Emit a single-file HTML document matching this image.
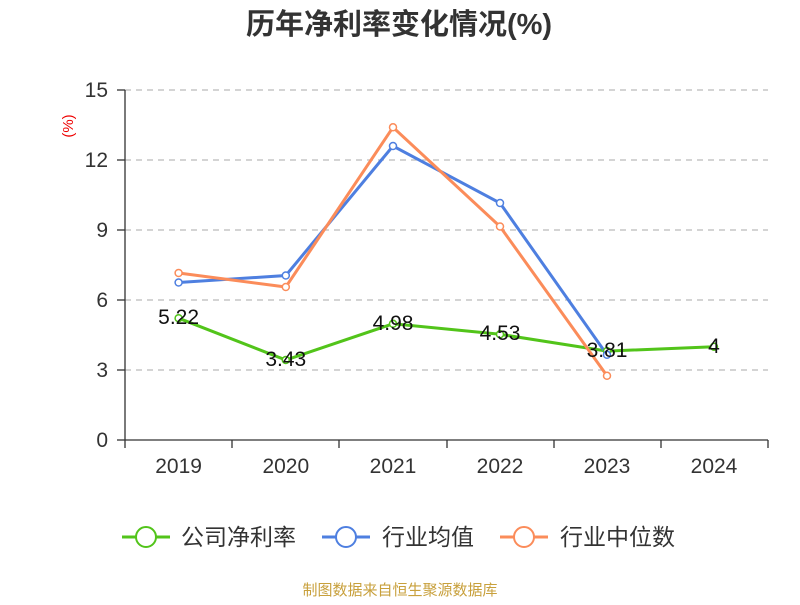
<!DOCTYPE html>
<html><head><meta charset="utf-8"><style>body{margin:0;background:#fff}</style></head><body>
<svg width="800" height="600" xmlns="http://www.w3.org/2000/svg" font-family="Liberation Sans, Noto Sans CJK SC, sans-serif">
<text x="399" y="34" text-anchor="middle" font-size="29" font-weight="bold" fill="#333">历年净利率变化情况(%)</text>
<text x="68" y="126" font-size="15" fill="#e00" transform="rotate(-90 68 126)" text-anchor="middle" dy="5">(%)</text>
<g stroke="#bbb" stroke-dasharray="6,5" stroke-width="1.3">
<line x1="125" x2="768" y1="90" y2="90"/><line x1="125" x2="768" y1="160" y2="160"/><line x1="125" x2="768" y1="230" y2="230"/><line x1="125" x2="768" y1="300" y2="300"/><line x1="125" x2="768" y1="370" y2="370"/>
</g>
<g stroke="#333" stroke-width="1.3">
<line x1="125" x2="125" y1="90" y2="440"/><line x1="125" x2="768" y1="440" y2="440"/>
<line x1="117" x2="125" y1="90" y2="90"/><line x1="117" x2="125" y1="160" y2="160"/><line x1="117" x2="125" y1="230" y2="230"/><line x1="117" x2="125" y1="300" y2="300"/><line x1="117" x2="125" y1="370" y2="370"/><line x1="117" x2="125" y1="440" y2="440"/>
<line x1="125" x2="125" y1="440" y2="448"/><line x1="232" x2="232" y1="440" y2="448"/><line x1="339" x2="339" y1="440" y2="448"/><line x1="447" x2="447" y1="440" y2="448"/><line x1="554" x2="554" y1="440" y2="448"/><line x1="661" x2="661" y1="440" y2="448"/><line x1="768" x2="768" y1="440" y2="448"/>
</g>
<g font-size="21" fill="#333" text-anchor="end">
<text x="108" y="97">15</text><text x="108" y="167">12</text><text x="108" y="237">9</text><text x="108" y="307">6</text><text x="108" y="377">3</text><text x="108" y="447">0</text>
</g>
<g font-size="21" fill="#333" text-anchor="middle">
<text x="178.6" y="473">2019</text><text x="285.8" y="473">2020</text><text x="393" y="473">2021</text><text x="500" y="473">2022</text><text x="607" y="473">2023</text><text x="714" y="473">2024</text>
</g>
<polyline fill="none" stroke="#52c41a" stroke-width="3" points="178.6,318.2 285.8,360 393,323.8 500,334.3 607,351.1 714,346.7"/>
<polyline fill="none" stroke="#4e7fe0" stroke-width="3" points="178.6,282.5 285.8,275.5 393,146 500,203 607,354.8"/>
<polyline fill="none" stroke="#fb8c5a" stroke-width="3" points="178.6,273 285.8,287 393,127.3 500,226.5 607,375.8"/>
<g fill="#fff" stroke-width="1.5">
<g stroke="#52c41a"><circle cx="178.6" cy="318.2" r="3.5"/><circle cx="285.8" cy="360" r="3.5"/><circle cx="393" cy="323.8" r="3.5"/><circle cx="500" cy="334.3" r="3.5"/><circle cx="607" cy="351.1" r="3.5"/><circle cx="714" cy="346.7" r="3.5"/></g>
<g stroke="#4e7fe0"><circle cx="178.6" cy="282.5" r="3.5"/><circle cx="285.8" cy="275.5" r="3.5"/><circle cx="393" cy="146" r="3.5"/><circle cx="500" cy="203" r="3.5"/><circle cx="607" cy="354.8" r="3.5"/></g>
<g stroke="#fb8c5a"><circle cx="178.6" cy="273" r="3.5"/><circle cx="285.8" cy="287" r="3.5"/><circle cx="393" cy="127.3" r="3.5"/><circle cx="500" cy="226.5" r="3.5"/><circle cx="607" cy="375.8" r="3.5"/></g>
</g>
<g font-size="21" fill="#111" text-anchor="middle">
<text x="178.6" y="324">5.22</text><text x="285.8" y="366">3.43</text><text x="393" y="330">4.98</text><text x="500" y="340">4.53</text><text x="607" y="357">3.81</text><text x="714" y="353">4</text>
</g>
<g font-size="23" fill="#333">
<line x1="122" x2="170" y1="537" y2="537" stroke="#52c41a" stroke-width="3"/><circle cx="146" cy="537" r="10" fill="#fff" stroke="#52c41a" stroke-width="2"/><text x="181" y="545">公司净利率</text>
<line x1="322" x2="370" y1="537" y2="537" stroke="#4e7fe0" stroke-width="3"/><circle cx="346" cy="537" r="10" fill="#fff" stroke="#4e7fe0" stroke-width="2"/><text x="382" y="545">行业均值</text>
<line x1="500" x2="548" y1="537" y2="537" stroke="#fb8c5a" stroke-width="3"/><circle cx="524" cy="537" r="10" fill="#fff" stroke="#fb8c5a" stroke-width="2"/><text x="560" y="545">行业中位数</text>
</g>
<text x="400" y="595" text-anchor="middle" font-size="15" fill="#c8a03c">制图数据来自恒生聚源数据库</text>
</svg>
</body></html>
